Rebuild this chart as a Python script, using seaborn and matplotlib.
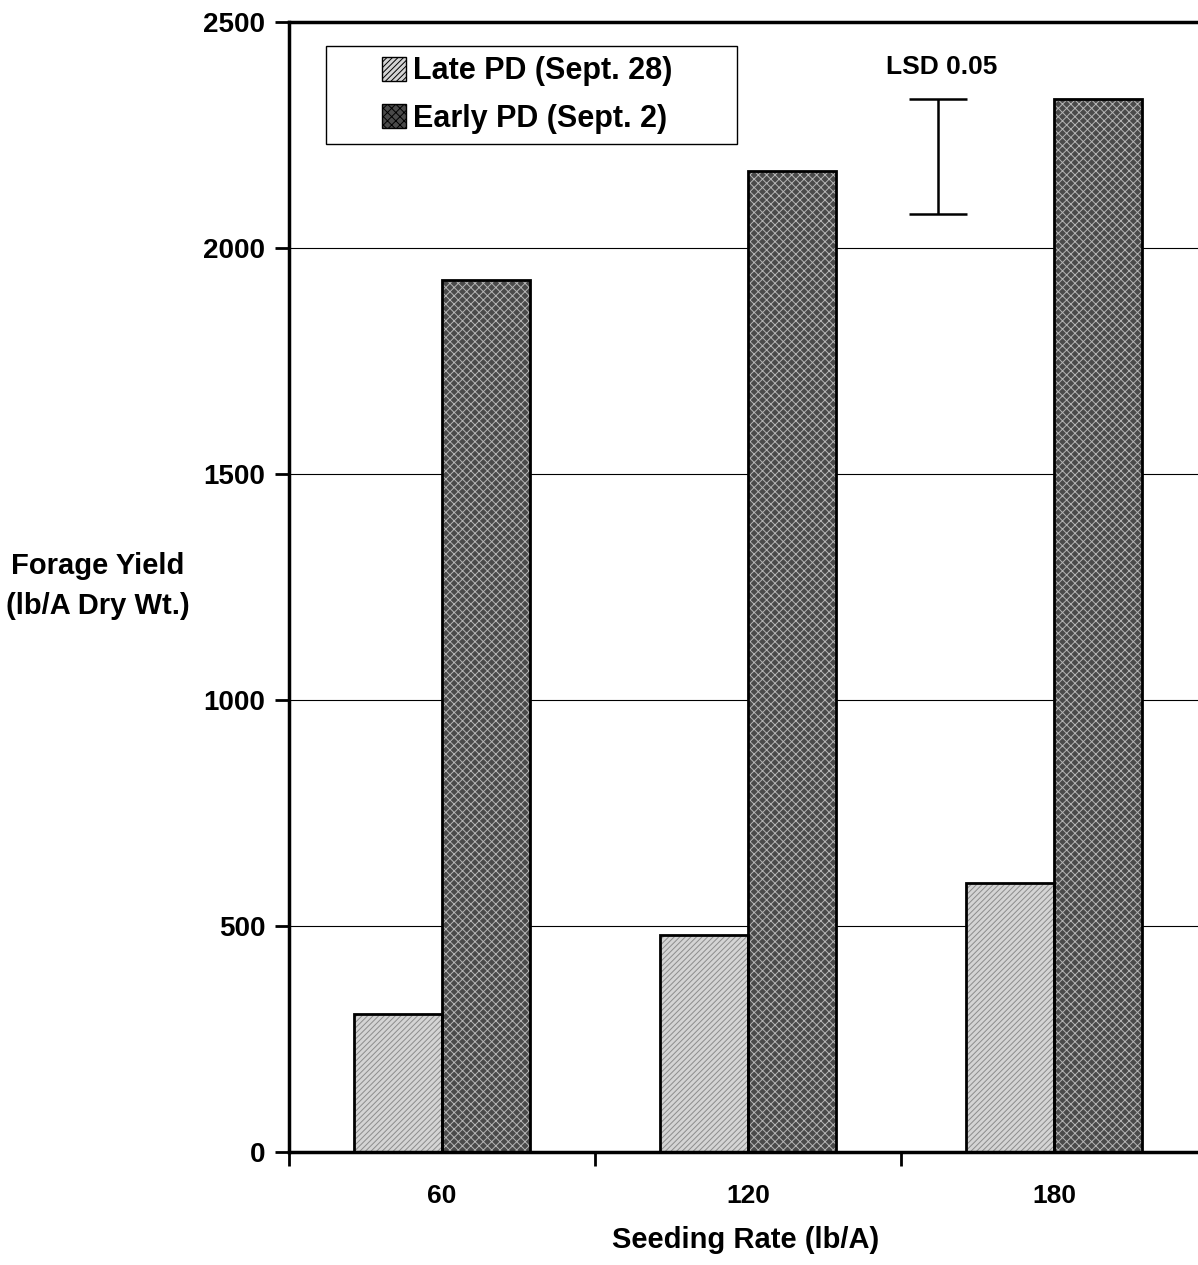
import numpy as np
import pandas as pd
import matplotlib
matplotlib.use("Agg")
import matplotlib.pyplot as plt
from matplotlib.patches import Patch, Rectangle
import seaborn as sns

# data
rates = ["60", "120", "180"]
late_pd = [305, 480, 595]
early_pd = [1930, 2170, 2330]
series = ["Late PD (Sept. 28)", "Early PD (Sept. 2)"]
lsd_low, lsd_high = 2075, 2330

sns.set_style("white")
plt.rcParams["font.family"] = ["Liberation Sans", "DejaVu Sans"]
plt.rcParams["font.weight"] = "bold"
plt.rcParams["hatch.linewidth"] = 0.7
for k in ["text.color", "axes.labelcolor", "xtick.color", "ytick.color"]:
    plt.rcParams[k] = "black"

df = pd.DataFrame({
    "rate": rates * 2,
    "yield": late_pd + early_pd,
    "pd": [series[0]] * 3 + [series[1]] * 3,
})

fig = plt.figure(figsize=(11.98, 12.65), dpi=100)
W, H = 1198, 1265
ax = fig.add_axes([289 / W, (H - 1152) / H, (1207 - 289) / W, (1152 - 22) / H])

for y in [500, 1000, 1500, 2000]:
    ax.axhline(y, color="black", lw=0.8, zorder=0)

sns.barplot(data=df, x="rate", y="yield", hue="pd", hue_order=series,
            order=rates, width=0.575, gap=0, ax=ax, legend=False, zorder=2)

styles = [
    dict(face="#d4d4d4", hatch="//////", hcol="#8c8c8c"),
    dict(face="#4a4a4a", hatch="xxxx", hcol="#b5b5b5"),
]
for cont, st in zip(ax.containers, styles):
    for bar in cont:
        bar.set_facecolor(st["face"])
        bar.set_edgecolor(st["hcol"])
        bar.set_hatch(st["hatch"])
        bar.set_linewidth(0)
        ax.add_patch(Rectangle((bar.get_x(), bar.get_y()), bar.get_width(),
                               bar.get_height(), fill=False, ec="black",
                               lw=2, zorder=3))

ax.set_xlim(-0.5, 2.5)
ax.set_ylim(0, 2500)
ax.set_yticks([0, 500, 1000, 1500, 2000, 2500])
ax.set_xticks(range(3))
ax.set_xticklabels(rates)
ax.set_xticks([-0.5, 0.5, 1.5, 2.5], minor=True)
ax.tick_params(axis="x", which="major", length=0, pad=23, labelsize=19)
ax.tick_params(axis="x", which="minor", length=10, width=2, direction="out",
               bottom=True)
ax.tick_params(axis="y", length=10, width=2, direction="out", left=True,
               pad=7, labelsize=20)
for lab in ax.get_xticklabels() + ax.get_yticklabels():
    lab.set_fontweight("bold")

for side in ["left", "bottom", "top"]:
    ax.spines[side].set_visible(True)
    ax.spines[side].set_linewidth(2.5)
    ax.spines[side].set_color("black")
ax.spines["right"].set_visible(False)

ax.set_xlabel("")
ax.set_ylabel("")
fig.text(746 / W, 1 - 1240 / H, "Seeding Rate (lb/A)", ha="center",
         va="center", fontsize=21, fontweight="bold")
fig.text(98 / W, 1 - 586 / H, "Forage Yield\n(lb/A Dry Wt.)", ha="center",
         va="center", fontsize=21, fontweight="bold", linespacing=1.5)

# LSD bar
lsd_x = 1.62
ax.errorbar([lsd_x], [(lsd_low + lsd_high) / 2], yerr=[(lsd_high - lsd_low) / 2],
            fmt="none", ecolor="black", elinewidth=1.8, capsize=21,
            capthick=1.8, zorder=4)
fig.text(942 / W, 1 - 67 / H, "LSD 0.05", ha="center", va="center",
         fontsize=19, fontweight="bold")

# legend: frameless entries plus a box drawn around them
handles = [Patch(facecolor=st["face"], edgecolor="black", hatch=st["hatch"],
                 lw=1) for st in styles]
leg = ax.legend(handles, series, loc="center left",
                bbox_to_anchor=(382 / W, 1 - 95 / H), bbox_transform=fig.transFigure,
                prop={"size": 22, "weight": "bold"}, frameon=False,
                handlelength=0.8, handleheight=0.8, handletextpad=0.2,
                borderpad=0, labelspacing=0.56, borderaxespad=0)
fig.patches.append(Rectangle((326 / W, 1 - 144 / H), (737 - 326) / W, (144 - 46) / H,
                             transform=fig.transFigure, fill=False, ec="black",
                             lw=1, zorder=5))

fig.savefig("out.png", dpi=100)
